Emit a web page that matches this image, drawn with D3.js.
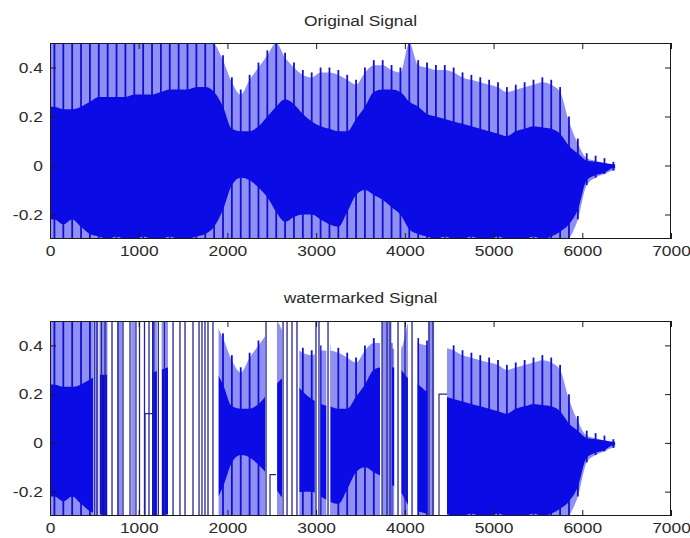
<!DOCTYPE html>
<html><head><meta charset="utf-8">
<script src="https://cdn.jsdelivr.net/npm/d3@7/dist/d3.min.js"></script>
<style>body{margin:0;background:#fff}svg{display:block}</style>
</head><body>
<svg id="chart" width="690" height="538"></svg>
<script>
// ---------- data ----------
const binSize = 100;          // samples per envelope bin
const signalEnd = 6370;       // last sample of the signal
const xTicks = [0, 1000, 2000, 3000, 4000, 5000, 6000, 7000];
const yTicks = [-0.2, 0, 0.2, 0.4];
const yTickLabels = ["-0.2", "0", "0.2", "0.4"];
const titles = ["Original Signal", "watermarked Signal"];

// envelope of the original signal, one value per 100-sample bin
const origPeakHi = [0.55,0.55,0.55,0.55,0.55,0.55,0.55,0.55,0.55,0.55,0.55,0.55,0.55,0.55,0.55,0.55,0.55,0.55,
  0.52,0.45,0.36,0.31,0.37,0.42,0.47,0.52,0.46,0.42,0.39,0.38,0.40,0.40,0.39,0.37,0.35,0.40,0.43,0.43,0.41,0.40,
  0.52,0.43,0.42,0.41,0.41,0.40,0.38,0.37,0.36,0.35,0.34,0.32,0.33,0.34,0.35,0.36,0.35,0.32,0.20,0.11,0.05,0.04,0.03,0.015];
const origCoreHi = [0.24,0.23,0.23,0.24,0.26,0.28,0.28,0.28,0.28,0.29,0.29,0.29,0.30,0.31,0.31,0.31,0.32,0.32,
  0.30,0.24,0.15,0.14,0.14,0.16,0.20,0.24,0.27,0.25,0.21,0.18,0.16,0.15,0.14,0.14,0.19,0.24,0.30,0.31,0.31,0.30,
  0.26,0.24,0.21,0.20,0.19,0.18,0.17,0.16,0.15,0.14,0.13,0.12,0.14,0.15,0.16,0.155,0.15,0.13,0.08,0.05,0.02,0.015,0.01,0.005];
const origCoreLo = [-0.22,-0.24,-0.22,-0.25,-0.28,-0.29,-0.30,-0.29,-0.30,-0.30,-0.29,-0.30,-0.30,-0.29,-0.30,-0.30,-0.29,-0.28,
  -0.25,-0.18,-0.08,-0.05,-0.06,-0.09,-0.13,-0.19,-0.23,-0.21,-0.20,-0.20,-0.22,-0.24,-0.25,-0.19,-0.12,-0.10,-0.12,-0.14,-0.17,-0.20,
  -0.26,-0.28,-0.29,-0.30,-0.29,-0.30,-0.30,-0.29,-0.30,-0.30,-0.29,-0.30,-0.30,-0.30,-0.29,-0.30,-0.29,-0.27,-0.24,-0.18,-0.06,-0.04,-0.03,-0.01];
const origPeakLo = [-0.35,-0.35,-0.35,-0.35,-0.35,-0.35,-0.35,-0.35,-0.35,-0.35,-0.35,-0.35,-0.35,-0.35,-0.35,-0.35,-0.35,-0.35,
  -0.35,-0.35,-0.35,-0.35,-0.35,-0.35,-0.35,-0.35,-0.35,-0.35,-0.35,-0.35,-0.35,-0.35,-0.35,-0.35,-0.35,-0.35,-0.35,-0.35,-0.35,-0.35,
  -0.35,-0.35,-0.35,-0.35,-0.35,-0.35,-0.35,-0.35,-0.35,-0.35,-0.35,-0.35,-0.35,-0.35,-0.35,-0.35,-0.35,-0.35,-0.30,-0.22,-0.08,-0.05,-0.035,-0.02];

// watermarked signal: original with off-scale bursts
const wmBurstStart = [485, 645, 1205, 1330, 2425, 2615, 2985, 3115, 3720, 3880, 4035, 4260];
const wmBurstEnd   = [560, 1150, 1260, 1900, 2560, 2810, 3045, 3160, 3845, 3960, 4140, 4475];
const wmStripeStart = [505, 755, 915, 3745, 4265];
const wmStripeEnd   = [545, 815, 960, 3850, 4330];
const wmLines = [499, 530, 580, 620, 699, 767, 823, 902, 969, 1009, 1065, 1116, 1170, 1221, 1290, 1387, 1465, 1522,
  1612, 1680, 1713, 1747, 1781, 1837, 2435, 2627, 2672, 2728, 2784, 2998, 3032, 3134, 3743, 3799, 3833, 3923,
  4002, 4081, 4272, 4317];
const wmStepStart = [1071, 2480, 4385];
const wmStepEnd   = [1150, 2548, 4475];
const wmStepValue = [0.12, -0.13, 0.20];

// ---------- drawing ----------
const colLight = "#9090f4", colCore = "#0b0be6", colPulse = "#1010d2", colBurst = "#25258f";
const svg = d3.select("#chart");
const panels = [
  {top: 43, bottom: 239, titleY: 26, wm: false},
  {top: 321, bottom: 516, titleY: 303, wm: true}
];
const left = 50, right = 671;
const fontFam = "'Liberation Sans', Arial, sans-serif";

panels.forEach((p, pi) => {
  const x = d3.scaleLinear().domain([0, 7000]).range([left, right]);
  const y = d3.scaleLinear().domain([-0.3, 0.5]).range([p.bottom, p.top]);
  const clipId = "clip" + pi;
  svg.append("clipPath").attr("id", clipId).append("rect")
    .attr("x", left).attr("y", p.top).attr("width", right - left).attr("height", p.bottom - p.top);
  const g = svg.append("g").attr("clip-path", `url(#${clipId})`);

  const bins = origPeakHi.map((v, i) => ({
    s: Math.min(i * binSize + binSize / 2, signalEnd),
    ph: v, ch: origCoreHi[i], cl: origCoreLo[i], pl: origPeakLo[i]
  }));
  // first and last sample share the neighbouring bin's envelope
  const pts = [{...bins[0], s: 0}, ...bins, {...bins[bins.length - 1], s: signalEnd}];

  const coreArea = d3.area().x(d => x(d.s)).y0(d => y(d.cl)).y1(d => y(d.ch)).curve(d3.curveMonotoneX);
  const lightArea = d3.area().x(d => x(d.s)).y0(d => y(d.pl)).y1(d => y(d.ph) + 5).curve(d3.curveMonotoneX);

  g.append("path").datum(pts).attr("d", lightArea).attr("fill", colLight);
  // pulses of the voiced signal (one per bin, full envelope height)
  g.selectAll(".pulse").data(bins).join("line")
    .attr("x1", d => x(d.s)).attr("x2", d => x(d.s))
    .attr("y1", d => y(d.ph)).attr("y2", d => y(d.pl))
    .attr("stroke", colPulse).attr("stroke-width", 1.8);
  g.append("path").datum(pts).attr("d", coreArea).attr("fill", colCore);

  if (p.wm) {
    const bursts = wmBurstStart.map((s, i) => ({s0: s, s1: wmBurstEnd[i]}));
    g.selectAll(".burst").data(bursts).join("rect")
      .attr("x", d => x(d.s0)).attr("width", d => x(d.s1) - x(d.s0))
      .attr("y", p.top).attr("height", p.bottom - p.top).attr("fill", "#fff");
    const stripes = wmStripeStart.map((s, i) => ({s0: s, s1: wmStripeEnd[i]}));
    g.selectAll(".stripe").data(stripes).join("rect")
      .attr("x", d => x(d.s0)).attr("width", d => x(d.s1) - x(d.s0))
      .attr("y", p.top).attr("height", p.bottom - p.top).attr("fill", colLight);
    g.selectAll(".bline").data(wmLines).join("line")
      .attr("x1", d => x(d)).attr("x2", d => x(d))
      .attr("y1", y(0.6)).attr("y2", y(-0.4))
      .attr("stroke", colBurst).attr("stroke-width", 1.3);
    const steps = wmStepStart.map((s, i) => ({s0: s, s1: wmStepEnd[i], v: wmStepValue[i]}));
    g.selectAll(".step").data(steps).join("path")
      .attr("d", d => `M${x(d.s0)},${y(-0.4)}L${x(d.s0)},${y(d.v)}L${x(d.s1)},${y(d.v)}`)
      .attr("fill", "none").attr("stroke", colBurst).attr("stroke-width", 1.2);
  }

  // box
  svg.append("rect").attr("x", left + 0.5).attr("y", p.top + 0.5)
    .attr("width", right - left - 1).attr("height", p.bottom - p.top - 1)
    .attr("fill", "none").attr("stroke", "#1a1a1a").attr("stroke-width", 1);

  const styleAxis = (a, labels) => {
    a.select(".domain").remove();
    a.selectAll(".tick line").attr("stroke", "#1a1a1a");
    a.selectAll("text").attr("fill", "#2a2a2a").attr("font-family", fontFam).attr("font-size", 14.5);
    if (!labels) a.selectAll("text").remove();
  };
  const xb = svg.append("g").attr("transform", `translate(0,${p.bottom})`)
    .call(d3.axisBottom(x).tickValues(xTicks).tickSize(-6).tickPadding(7).tickFormat(d3.format("d")));
  styleAxis(xb, true);
  xb.selectAll("text").attr("transform", "scale(1.2,1)");
  const xt = svg.append("g").attr("transform", `translate(0,${p.top})`)
    .call(d3.axisTop(x).tickValues(xTicks).tickSize(-6));
  styleAxis(xt, false);
  const yl = svg.append("g").attr("transform", `translate(${left},0)`)
    .call(d3.axisLeft(y).tickValues(yTicks).tickSize(-6).tickPadding(6).tickFormat((d, i) => yTickLabels[i]));
  styleAxis(yl, true);
  yl.selectAll("text").attr("transform", "scale(1.2,1)");
  const yr = svg.append("g").attr("transform", `translate(${right},0)`)
    .call(d3.axisRight(y).tickValues(yTicks).tickSize(-6));
  styleAxis(yr, false);

  svg.append("text").attr("x", (left + right) / 2 / 1.2).attr("y", p.titleY)
    .attr("transform", "scale(1.2,1)")
    .attr("text-anchor", "middle").attr("font-family", fontFam).attr("font-size", 14.5)
    .attr("fill", "#2a2a2a").text(titles[pi]);
});
</script>
</body></html>
